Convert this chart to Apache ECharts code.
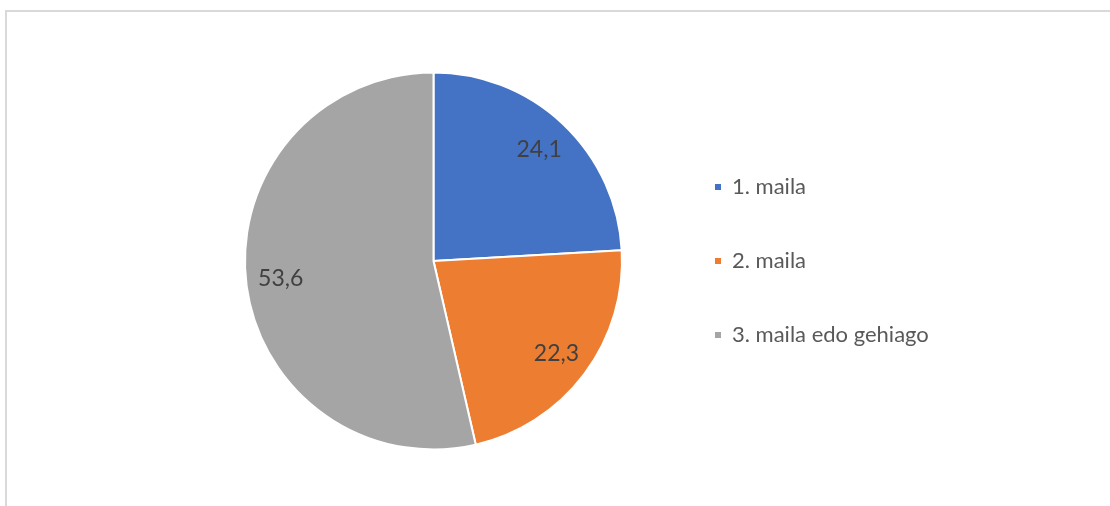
<!DOCTYPE html>
<html>
<head>
<meta charset="utf-8">
<script src="https://cdn.jsdelivr.net/npm/echarts@6/dist/echarts.min.js"></script>
<style>
  html, body { margin: 0; padding: 0; background: #fff; }
  #chart { width: 1110px; height: 506px; }
</style>
</head>
<body>
<div id="chart"></div>
<script>
// Shares by level (percent)
const categories = ['1. maila', '2. maila', '3. maila edo gehiago'];
const values = [24.1, 22.3, 53.6];
const colors = ['#4472C4', '#ED7D31', '#A5A5A5'];

const pieData = categories.map((name, i) => ({ name: name, value: values[i] }));
const fmt = (p) => String(p.value).replace('.', ',');

const chart = echarts.init(document.getElementById('chart'));
chart.setOption({
  animation: false,
  color: colors,
  graphic: [{
    type: 'rect',
    shape: { x: 6, y: 11, width: 1200, height: 600 },
    style: { fill: 'none', stroke: '#d9d9d9', lineWidth: 2 },
    silent: true
  }],
  legend: {
    orient: 'vertical',
    left: 713,
    top: 176,
    padding: 0,
    data: categories,
    icon: 'rect',
    itemWidth: 8,
    itemHeight: 8,
    itemGap: 52,
    selectedMode: false,
    textStyle: {
      fontFamily: 'Lato',
      fontSize: 22,
      lineHeight: 22,
      color: '#595959',
      padding: [0, 0, 0, 5]
    }
  },
  series: [
    {
      type: 'pie',
      center: [433.5, 261],
      radius: [0, 188.5],
      startAngle: 90,
      clockwise: true,
      data: pieData,
      itemStyle: { borderColor: '#ffffff', borderWidth: 2 },
      label: { show: false },
      labelLine: { show: false },
      emphasis: { disabled: true }
    },
    {
      // transparent ring used only to place the value labels
      type: 'pie',
      center: [433.5, 261],
      radius: [113, 188.5],
      startAngle: 90,
      clockwise: true,
      silent: true,
      legendHoverLink: false,
      data: pieData,
      itemStyle: { color: 'rgba(0,0,0,0)' },
      label: {
        show: true,
        position: 'inside',
        formatter: fmt,
        fontFamily: 'Lato',
        fontSize: 23,
        color: '#404040'
      },
      labelLine: { show: false },
      emphasis: { disabled: true }
    }
  ]
});
</script>
</body>
</html>
